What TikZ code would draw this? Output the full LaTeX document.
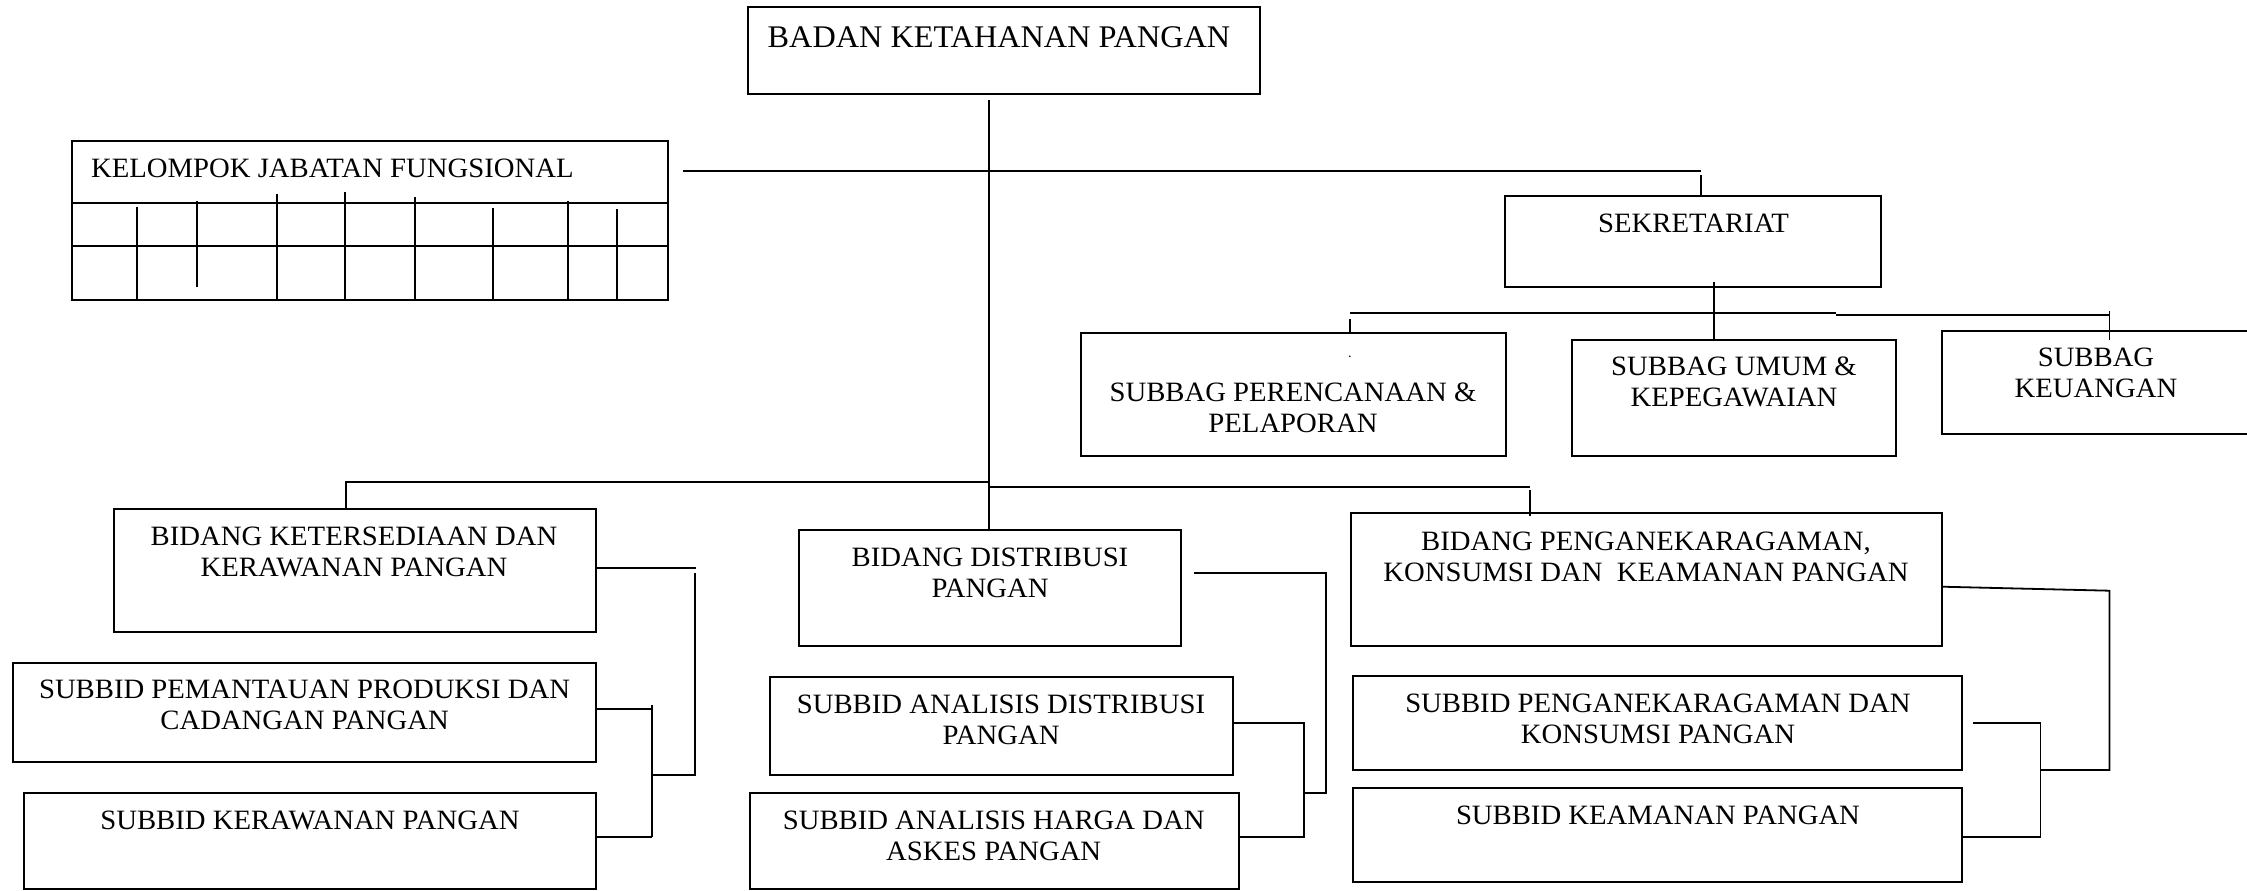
\documentclass[tikz,border=0pt]{standalone}
\usepackage{fontspec}
\setmainfont[FakeStretch=1.025]{Liberation Serif}
\begin{document}
\begin{tikzpicture}[x=1pt,y=-1pt,
  box/.style={draw, line width=2pt, inner sep=0pt, outer sep=0pt},
  txt/.style={inner sep=0pt, align=center, font=\fontsize{28}{31}\selectfont},
  ln/.style={line width=1.8pt}]
\useasboundingbox (0,0) rectangle (2247,891);
\clip (0,0) rectangle (2247,891);
% boxes
\node[box, minimum width=511.7pt, minimum height=87pt] (badan) at (1003.85,50.5) {};
\node[box, minimum width=596.5pt, minimum height=159.3pt] (kel) at (369.75,220.35) {};
\node[box, minimum width=375.5pt, minimum height=91.3pt] (sek) at (1692.75,241.35) {};
\node[box, minimum width=425.2pt, minimum height=123.3pt] (ren) at (1293.1,394.35) {};
\node[box, minimum width=324pt, minimum height=116pt] (umum) at (1734,398) {};
\node[box, minimum width=320.4pt, minimum height=103.3pt] (keu) at (2101.8,382.35) {};
\node[box, minimum width=482pt, minimum height=122.7pt] (bk) at (355,570.35) {};
\node[box, minimum width=583pt, minimum height=99pt] (pem) at (304.5,712.2) {};
\node[box, minimum width=572pt, minimum height=96.3pt] (rawan) at (310,840.85) {};
\node[box, minimum width=381.7pt, minimum height=116pt] (dist) at (989.85,588) {};
\node[box, minimum width=462.7pt, minimum height=98.3pt] (ad) at (1001.15,725.85) {};
\node[box, minimum width=489pt, minimum height=96.3pt] (ah) at (994.5,840.85) {};
\node[box, minimum width=591.5pt, minimum height=133pt] (pk) at (1646.25,579.5) {};
\node[box, minimum width=608.2pt, minimum height=94pt] (spk) at (1657.5,723) {};
\node[box, minimum width=608.2pt, minimum height=94pt] (skm) at (1657.5,834.7) {};
% kelompok grid
\draw[ln] (kel.west |- 0,203.3) -- (kel.east |- 0,203.3);
\draw[ln] (kel.west |- 0,246) -- (kel.east |- 0,246);
\draw[ln] (137,207) -- (137,300);
\draw[ln] (197,201) -- (197,287);
\draw[ln] (277,194) -- (277,300);
\draw[ln] (345,192) -- (345,300);
\draw[ln] (415,197) -- (415,300);
\draw[ln] (493,208) -- (493,300);
\draw[ln] (568,201) -- (568,300);
\draw[ln] (617,209) -- (617,300);
% texts
\node[txt, font=\fontsize{31.5}{34}\selectfont] (badanT) at (999,37) {BADAN KETAHANAN PANGAN};
\node[txt, anchor=west] (kelT) at (91,168) {KELOMPOK JABATAN FUNGSIONAL};
\node[txt] (sekT) at (1693.5,223) {SEKRETARIAT};
\node[txt] (renT) at (1293,407.4) {SUBBAG PERENCANAAN \&\\PELAPORAN};
\node[txt, font=\fontsize{14}{14}\selectfont] (renDot) at (1350,357) {.};
\node[txt] (umumT) at (1734,382) {SUBBAG UMUM \&\\KEPEGAWAIAN};
\node[txt] (keuT) at (2096,372.5) {SUBBAG\\KEUANGAN};
\node[txt] (bkT) at (354,551.7) {BIDANG KETERSEDIAAN DAN\\KERAWANAN PANGAN};
\node[txt] (distT) at (990,572.5) {BIDANG DISTRIBUSI\\PANGAN};
\node[txt] (pkT) at (1646,557.2) {BIDANG PENGANEKARAGAMAN,\\KONSUMSI DAN \ KEAMANAN PANGAN};
\node[txt] (pemT) at (304.6,705) {SUBBID PEMANTAUAN PRODUKSI DAN\\CADANGAN PANGAN};
\node[txt] (rawanT) at (310,820) {SUBBID KERAWANAN PANGAN};
\node[txt] (adT) at (1001,719.5) {SUBBID ANALISIS DISTRIBUSI\\PANGAN};
\node[txt] (ahT) at (993.7,835.4) {SUBBID ANALISIS HARGA DAN\\ASKES PANGAN};
\node[txt] (spkT) at (1658,719) {SUBBID PENGANEKARAGAMAN DAN\\KONSUMSI PANGAN};
\node[txt] (skmT) at (1658,815) {SUBBID KEAMANAN PANGAN};
% connectors
\coordinate (trunkTop) at (989,100);
\coordinate (kelEnd) at (683,171);
\draw[ln] (trunkTop) -- (dist.north -| trunkTop);
\draw[ln] (kelEnd) -- (1701,171);
\draw[ln] (1701,175) -- (1701,195.7);
\draw[ln] (1714,282) -- (umum.north -| 1714,0);
\draw[ln] (1350,313) -- (1836,313);
\draw[ln] (1836,315) -- (2109.5,315);
\draw[ln] (2109.5,310.7) -- (2109.5,340);
\draw[ln] (1350,319) -- (1350,334);
\draw[ln] (346,509) -- (346,481.7) -- (989,481.7);
\draw[ln] (989,487) -- (1530,487);
\draw[ln] (1530,490) -- (1530,516);
\draw[ln] (596,568) -- (695.6,568);
\draw[ln] (694.6,573) -- (694.6,775) -- (652,775);
\draw[ln] (596,709) -- (652,709);
\draw[ln] (652,705) -- (652,836.7);
\draw[ln] (596,836.7) -- (652,836.7);
\draw[ln] (1194,572.7) -- (1325.8,572.7) -- (1325.8,792.7) -- (1303.8,792.7);
\draw[ln] (1232.5,722.7) -- (1303.8,722.7) -- (1303.8,836.7) -- (1239,836.7);
\draw[ln] (1942,586.7) -- (2109.5,590.7) -- (2109.5,770) -- (2040.5,770);
\draw[ln] (1973,722.7) -- (2040.5,722.7) -- (2040.5,836.7) -- (1961.6,836.7);
\end{tikzpicture}
\end{document}
